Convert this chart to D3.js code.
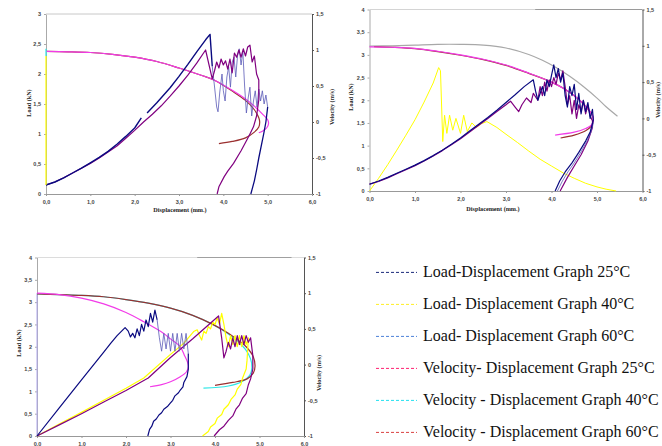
<!DOCTYPE html>
<html>
<head>
<meta charset="utf-8">
<script src="https://cdn.jsdelivr.net/npm/d3@7"></script>
<style>
  body { margin: 0; background: #fff; }
  svg { display: block; }
</style>
</head>
<body>
<div id="chart"></div>
<script>
// tick values shared by the three panels
var dispTicks = [0, 1, 2, 3, 4, 5, 6];
var velTicks = [-1, -0.5, 0, 0.5, 1, 1.5];
var load3Ticks = [0, 0.5, 1, 1.5, 2, 2.5, 3];
var load4Ticks = [0, 0.5, 1, 1.5, 2, 2.5, 3, 3.5, 4];

// ---- panel 1 (top left), [displacement, value] ----
var p1Top = [[0, 1.5], [6, 1.5]];
var p1Yellow = [[0, 0.15], [0, 2.3]];
var p1Cyan = [[0, 2.3], [0, 2.42]];
var p1NavyA = [[0,0.15],[0.2,0.2],[0.4,0.27],[0.6,0.35],[0.8,0.43],[1.0,0.52],[1.2,0.61],[1.4,0.71],[1.6,0.83],[1.8,0.96],[2.0,1.1],[2.15,1.27]];
var p1NavyB = [[2.28,1.35],[2.5,1.52],[2.8,1.77],[3.0,1.96],[3.2,2.16],[3.4,2.37],[3.6,2.57],[3.7,2.66],[3.75,2.13]];
var p1Noise = [[3.75,2.13],[3.8,1.8],[3.85,1.45],[3.88,1.37],[3.92,1.7],[3.97,2.0],[4.0,1.72],[4.04,1.55],[4.08,1.95],[4.12,2.12],[4.16,1.78],[4.2,2.2],[4.24,2.28],[4.28,1.95],[4.32,2.3],[4.36,2.42],[4.4,2.15],[4.44,2.38],[4.48,1.8],[4.52,1.35],[4.56,1.6],[4.6,1.78],[4.64,1.3],[4.68,1.55],[4.72,1.72],[4.76,1.45],[4.8,1.75],[4.84,1.55],[4.88,1.72],[4.92,1.5],[4.96,1.65],[5.0,1.45]];
var p1NavyC = [[5.0,1.45],[4.96,1.2],[4.91,1.0],[4.86,0.82],[4.8,0.6],[4.75,0.4],[4.7,0.22],[4.65,0.08],[4.62,0]];
var p1Purple = [[0,0.15],[0.2,0.2],[0.4,0.27],[0.6,0.35],[0.8,0.43],[1.0,0.51],[1.2,0.6],[1.4,0.7],[1.6,0.8],[1.8,0.93],[2.0,1.06],[2.2,1.2],[2.4,1.33],[2.6,1.47],[2.8,1.63],[3.0,1.8],[3.2,1.98],[3.4,2.18],[3.6,2.4],[3.75,1.92],[3.8,2.05],[3.85,2.2],[3.9,2.1],[3.95,2.25],[4.0,2.15],[4.05,2.22],[4.1,2.08],[4.15,2.25],[4.2,2.02],[4.25,2.35],[4.3,2.28],[4.35,2.4],[4.4,2.28],[4.45,2.42],[4.5,2.3],[4.55,2.45],[4.6,2.48],[4.65,2.2],[4.7,2.3],[4.75,2.0],[4.8,1.9],[4.8,1.57],[4.75,1.3],[4.68,1.12],[4.6,1.0],[4.53,0.9],[4.4,0.72],[4.23,0.51],[4.1,0.38],[4.02,0.29],[3.9,0.12],[3.86,0]];
var p1Maroon = [[0,0.98],[0.5,0.975],[1.0,0.965],[1.5,0.94],[2.0,0.9],[2.5,0.84],[3.0,0.75],[3.5,0.65],[3.8,0.58],[4.2,0.43],[4.5,0.3],[4.7,0.17],[4.8,0.06],[4.82,0],[4.8,-0.07],[4.7,-0.14],[4.5,-0.22],[4.2,-0.27],[3.9,-0.3]];
var p1Magenta = [[0,0.98],[0.5,0.975],[1.0,0.965],[1.5,0.94],[2.0,0.9],[2.5,0.84],[3.0,0.75],[3.5,0.65],[3.8,0.58],[4.2,0.44],[4.5,0.32],[4.7,0.22],[4.9,0.1],[5.0,0.03],[5.02,-0.02],[4.98,-0.08],[4.9,-0.12],[4.8,-0.15]];

// ---- panel 2 (top right) ----
var p2TopLight = [[0, 1.5], [3.64, 1.5]];
var p2TopDark = [[3.64, 1.5], [6, 1.5]];
var p2Gray = [[0,0.995],[0.5,1.0],[1.0,1.01],[1.5,1.02],[2.0,1.02],[2.5,1.01],[3.0,0.97],[3.5,0.88],[3.8,0.8],[4.1,0.7],[4.4,0.58],[4.7,0.44],[5.0,0.28],[5.2,0.16],[5.45,0.03]];
var p2Maroon = [[0.1,0.99],[0.5,0.98],[1.0,0.96],[1.5,0.92],[2.0,0.87],[2.5,0.81],[3.0,0.73],[3.5,0.62],[4.0,0.5],[4.3,0.4],[4.6,0.26],[4.8,0.13],[4.9,0.04],[4.92,-0.02],[4.88,-0.1],[4.75,-0.17],[4.5,-0.23],[4.2,-0.27]];
var p2Magenta = [[0,0.985],[0.5,0.98],[1.0,0.965],[1.5,0.925],[2.0,0.875],[2.5,0.815],[3.0,0.735],[3.5,0.625],[4.0,0.5],[4.3,0.4],[4.6,0.26],[4.8,0.13],[4.9,0.04],[4.92,-0.02],[4.88,-0.09],[4.75,-0.14],[4.5,-0.19],[4.08,-0.23]];
var p2Yellow = [[0,0],[0.2,0.28],[0.4,0.58],[0.6,0.9],[0.8,1.23],[1.0,1.57],[1.2,1.96],[1.4,2.38],[1.52,2.72],[1.56,2.65],[1.61,1.09],[1.65,1.67],[1.7,1.27],[1.76,1.67],[1.83,1.34],[1.9,1.6],[2.0,1.27],[2.07,1.67],[2.15,1.31],[2.25,1.5],[2.35,1.4],[2.45,1.48],[2.58,1.53],[2.8,1.4],[3.0,1.25],[3.25,1.07],[3.5,0.88],[3.75,0.7],[4.0,0.55],[4.27,0.39],[4.5,0.28],[4.75,0.17],[5.0,0.09],[5.2,0.04],[5.42,0.0]];
var p2Navy = [[0,0.15],[0.2,0.22],[0.4,0.3],[0.6,0.39],[0.8,0.48],[1.0,0.57],[1.2,0.67],[1.4,0.78],[1.6,0.9],[1.8,1.03],[2.0,1.17],[2.2,1.32],[2.4,1.47],[2.6,1.62],[2.8,1.78],[3.0,1.95],[3.2,2.12],[3.4,2.3],[3.6,2.45],[3.65,2.2],[3.7,2.0],[3.75,2.15],[3.8,2.3],[3.85,2.1],[3.9,2.45],[3.95,2.3],[4.0,2.55],[4.05,2.78],[4.1,2.5],[4.15,2.7],[4.2,2.4],[4.25,2.6],[4.3,2.1],[4.35,1.85],[4.4,2.3],[4.45,2.1],[4.5,2.35],[4.55,1.8],[4.6,2.15],[4.65,1.7],[4.7,2.0],[4.75,1.75],[4.8,1.95],[4.85,1.6],[4.9,1.8],[4.92,1.56],[4.85,1.3],[4.75,1.1],[4.6,0.85],[4.45,0.62],[4.3,0.42],[4.18,0.22],[4.08,0]];
var p2Blue = [[4.92,1.5],[4.86,1.28],[4.77,1.08],[4.63,0.83],[4.5,0.62],[4.36,0.42],[4.24,0.22],[4.13,0]];
var p2Purple = [[0,0.15],[0.2,0.21],[0.4,0.29],[0.6,0.38],[0.8,0.47],[1.0,0.56],[1.2,0.66],[1.4,0.77],[1.6,0.89],[1.8,1.02],[2.0,1.15],[2.2,1.3],[2.4,1.45],[2.6,1.6],[2.8,1.75],[3.0,1.9],[3.1,1.98],[3.2,1.85],[3.28,1.75],[3.35,1.9],[3.45,2.05],[3.55,1.95],[3.6,2.15],[3.7,2.0],[3.75,2.3],[3.8,2.1],[3.85,2.4],[3.9,2.2],[3.95,2.45],[4.0,2.3],[4.05,2.5],[4.1,2.35],[4.15,2.6],[4.2,2.45],[4.25,2.65],[4.3,2.3],[4.35,1.9],[4.4,2.1],[4.45,1.7],[4.5,2.0],[4.55,1.6],[4.6,1.9],[4.65,1.75],[4.7,2.0],[4.75,1.7],[4.8,1.9],[4.85,1.65],[4.9,1.55],[4.9,1.4],[4.8,1.1],[4.65,0.8],[4.5,0.55],[4.35,0.3],[4.19,0]];

// ---- panel 3 (bottom left) ----
var p3TopLight = [[0, 1.5], [6, 1.5]];
var p3TopDark = [[3.6, 1.5], [5.72, 1.5]];
var p3Lavender = [[0, 0], [0, 3.2]];
var p3NavyA = [[0,0],[0.5,0.63],[1.0,1.26],[1.5,1.88],[1.65,2.07],[1.8,2.25],[1.98,2.43],[2.05,2.35],[2.1,2.22],[2.15,2.3],[2.2,2.2],[2.25,2.4],[2.3,2.25],[2.35,2.5],[2.4,2.35],[2.45,2.6],[2.5,2.45],[2.55,2.75],[2.6,2.55],[2.65,2.82],[2.7,2.6]];
var p3Noise = [[2.7,2.6],[2.75,2.2],[2.8,1.9],[2.85,2.3],[2.9,1.95],[2.95,2.3],[3.0,1.9],[3.05,2.3],[3.1,1.9],[3.15,2.3],[3.2,1.9],[3.25,2.3],[3.3,1.95],[3.35,2.3],[3.4,1.85]];
var p3NavyB = [[3.4,1.85],[3.4,1.5],[3.37,1.33],[3.3,1.2],[3.28,1.1],[3.22,1.03],[3.18,0.97],[3.1,0.9],[3.05,0.8],[2.99,0.73],[2.93,0.66],[2.85,0.6],[2.8,0.52],[2.74,0.47],[2.68,0.38],[2.62,0.33],[2.58,0.22],[2.53,0.15],[2.49,0]];
var p3Yellow = [[0,0],[0.5,0.27],[1.0,0.53],[1.5,0.8],[2.0,1.07],[2.4,1.3],[3.0,1.83],[3.3,2.08],[3.52,2.34],[3.6,2.38],[3.65,2.25],[3.7,2.15],[3.75,2.35],[3.8,2.3],[3.85,2.45],[3.9,2.4],[3.95,2.55],[4.0,2.5],[4.05,2.65],[4.1,2.5],[4.15,2.75],[4.2,2.5],[4.25,2.2],[4.3,2.0],[4.35,2.25],[4.4,2.05],[4.45,2.25],[4.5,2.0],[4.55,2.25],[4.6,2.0],[4.65,2.25],[4.7,2.05],[4.75,2.2],[4.72,1.7],[4.7,1.5],[4.62,1.3],[4.58,1.15],[4.5,1.05],[4.45,0.92],[4.36,0.82],[4.3,0.7],[4.2,0.6],[4.15,0.48],[4.05,0.4],[4.0,0.28],[3.9,0.2],[3.85,0.1],[3.72,0]];
var p3Purple = [[0,0],[0.5,0.25],[1.0,0.5],[1.5,0.76],[2.0,1.02],[2.5,1.3],[3.0,1.76],[3.5,2.18],[4.08,2.69],[4.15,2.2],[4.2,1.75],[4.25,1.9],[4.3,2.1],[4.35,1.95],[4.4,2.2],[4.45,2.0],[4.5,2.25],[4.55,2.05],[4.6,2.25],[4.65,2.05],[4.7,2.25],[4.75,2.1],[4.8,2.2],[4.85,1.8],[4.85,1.5],[4.8,1.28],[4.75,1.15],[4.7,0.95],[4.62,0.85],[4.55,0.7],[4.47,0.6],[4.4,0.45],[4.3,0.35],[4.2,0.22],[4.1,0.14],[3.98,0]];
var p3Magenta = [[0,1.0],[0.5,0.98],[1.0,0.93],[1.5,0.85],[2.0,0.73],[2.4,0.6],[2.84,0.44],[3.0,0.36],[3.22,0.25],[3.32,0.12],[3.38,0.04],[3.4,-0.03],[3.36,-0.1],[3.22,-0.17],[3.0,-0.24],[2.8,-0.28],[2.54,-0.31]];
var p3Cyan = [[0,0.99],[0.5,0.98],[1.0,0.97],[1.5,0.95],[2.0,0.91],[2.5,0.86],[3.0,0.79],[3.5,0.69],[3.96,0.56],[4.3,0.43],[4.5,0.33],[4.7,0.2],[4.8,0.08],[4.83,-0.04],[4.78,-0.15],[4.6,-0.24],[4.3,-0.3],[3.74,-0.33]];
var p3Maroon = [[0,0.99],[0.5,0.98],[1.0,0.97],[1.5,0.95],[2.0,0.91],[2.5,0.86],[3.0,0.79],[3.5,0.69],[3.96,0.56],[4.3,0.44],[4.5,0.35],[4.7,0.25],[4.86,0.11],[4.9,-0.02],[4.86,-0.12],[4.72,-0.2],[4.4,-0.25],[4.0,-0.29]];

// ---- legend ----
var legendLabels = [
  "Load-Displacement Graph 25°C",
  "Load- Displacement Graph 40°C",
  "Load- Displacement Graph 60°C",
  "Velocity- Displacement Graph 25°C",
  "Velocity - Displacement Graph 40°C",
  "Velocity - Displacement Graph 60°C"
];
var legendColors = ["#1a2a7a", "#ffee22", "#4a80d8", "#ff2070", "#22e0f0", "#d94040"];

// line colours (excel defaults)
var NAVY = "#0a0a80", PURPLE = "#800080", MAGENTA = "#f23ce8", MAROON = "#9b3030",
    YELLOW = "#ffff00", CYAN = "#2ee6e6", GRAY = "#a8a8a8", NOISE = "#5a5ab8";

var svg = d3.select("#chart").append("svg")
  .attr("width", 662)
  .attr("height", 446);

var commaFmt = function(d) { return String(d).replace(".", ","); };
var dispFmt = function(d) { return d.toFixed(1).replace(".", ","); };

var panels = [
  { left: 46, right: 312, top: 14, bottom: 194, loadMax: 3, loadTicks: load3Ticks,
    xTitle: [180, 212], loadTitle: [31, 103], velTitle: [334, 107],
    series: [
      { data: p1Top, axis: "v", color: "#c8c8c8", w: 1 },
      { data: p1Maroon, axis: "v", color: MAROON, smooth: true },
      { data: p1Magenta, axis: "v", color: MAGENTA, smooth: true },
      { data: p1Noise, color: NOISE, w: 0.8 },
      { data: p1Purple, color: PURPLE },
      { data: p1NavyA, color: NAVY, w: 1.4 },
      { data: p1NavyB, color: NAVY, w: 1.4 },
      { data: p1NavyC, color: NAVY, w: 1.3 },
      { data: p1Yellow, color: YELLOW, w: 1.2 },
      { data: p1Cyan, color: CYAN, w: 1.2 }
    ] },
  { left: 369.5, right: 642.5, top: 9.5, bottom: 191, loadMax: 4, loadTicks: load4Ticks,
    xTitle: [493, 211], loadTitle: [353, 97], velTitle: [660, 100],
    series: [
      { data: p2TopLight, axis: "v", color: "#d4d4d4", w: 1 },
      { data: p2TopDark, axis: "v", color: "#9a9a9a", w: 1 },
      { data: p2Gray, axis: "v", color: GRAY, smooth: true },
      { data: p2Yellow, color: YELLOW, w: 1 },
      { data: p2Maroon, axis: "v", color: MAROON, smooth: true },
      { data: p2Magenta, axis: "v", color: MAGENTA, smooth: true },
      { data: p2Purple, color: PURPLE },
      { data: p2Blue, color: NOISE, w: 0.8 },
      { data: p2Navy, color: NAVY }
    ] },
  { left: 37, right: 304, top: 257.5, bottom: 436, loadMax: 4, loadTicks: load4Ticks,
    xTitle: null, loadTitle: [21, 343], velTitle: [321, 373],
    series: [
      { data: p3TopLight, axis: "v", color: "#dcdcdc", w: 1 },
      { data: p3TopDark, axis: "v", color: "#a0a0a0", w: 1.2 },
      { data: p3Lavender, color: "#b0a8f0", w: 1 },
      { data: p3Cyan, axis: "v", color: CYAN, smooth: true },
      { data: p3Maroon, axis: "v", color: MAROON, smooth: true },
      { data: p3Magenta, axis: "v", color: MAGENTA, smooth: true },
      { data: p3Yellow, color: YELLOW },
      { data: p3Purple, color: PURPLE },
      { data: p3Noise, color: NOISE, w: 0.8 },
      { data: p3NavyA, color: NAVY },
      { data: p3NavyB, color: NAVY }
    ] }
];

function styleAxis(ax, lineColor) {
  ax.attr("font-size", null).attr("font-family", null);
  ax.select(".domain").attr("stroke", lineColor);
  ax.selectAll(".tick line").attr("stroke", lineColor);
  ax.selectAll(".tick text")
    .attr("fill", "#444")
    .style("font", "bold 5.5px 'Liberation Sans', Arial, sans-serif");
}

function drawPanel(p) {
  var x = d3.scaleLinear().domain([0, 6]).range([p.left, p.right]);
  var yL = d3.scaleLinear().domain([0, p.loadMax]).range([p.bottom, p.top]);
  var yV = d3.scaleLinear().domain([-1, 1.5]).range([p.bottom, p.top]);
  var g = svg.append("g");

  // draw left axis
  var axL = g.append("g")
    .attr("transform", "translate(" + p.left + ",0)")
    .call(d3.axisLeft(yL).tickValues(p.loadTicks).tickFormat(commaFmt)
      .tickSizeInner(2).tickSizeOuter(0).tickPadding(3));
  styleAxis(axL, "#aaa");

  // draw right axis
  var axR = g.append("g")
    .attr("transform", "translate(" + p.right + ",0)")
    .call(d3.axisRight(yV).tickValues(velTicks).tickFormat(commaFmt)
      .tickSizeInner(2).tickSizeOuter(0).tickPadding(2));
  styleAxis(axR, "#555");

  // draw x axis
  var axB = g.append("g")
    .attr("transform", "translate(0," + p.bottom + ")")
    .call(d3.axisBottom(x).tickValues(dispTicks).tickFormat(dispFmt)
      .tickSizeInner(2).tickSizeOuter(0).tickPadding(4));
  styleAxis(axB, "#999");

  // draw series
  p.series.forEach(function(s) {
    var y = s.axis == "v" ? yV : yL;
    var line = d3.line()
      .x(function(d) { return x(d[0]); })
      .y(function(d) { return y(d[1]); })
      .curve(s.smooth ? d3.curveCatmullRom.alpha(0.5) : d3.curveLinear);
    g.append("path")
      .datum(s.data)
      .attr("d", line)
      .attr("fill", "none")
      .attr("stroke", s.color)
      .attr("stroke-width", s.w || 1.2)
      .attr("stroke-linejoin", "round");
  });

  var titleFont = "bold 6.2px 'Liberation Serif', 'Times New Roman', serif";

  // axis titles
  if (p.xTitle) {
    g.append("text")
      .attr("x", p.xTitle[0]).attr("y", p.xTitle[1])
      .attr("text-anchor", "middle")
      .style("font", titleFont).attr("fill", "#222")
      .text("Displacement (mm.)");
  }
  g.append("text")
    .attr("transform", "translate(" + p.loadTitle[0] + "," + p.loadTitle[1] + ") rotate(-90)")
    .attr("text-anchor", "middle")
    .style("font", titleFont).attr("fill", "#222")
    .text("Load (kN)");
  g.append("text")
    .attr("transform", "translate(" + p.velTitle[0] + "," + p.velTitle[1] + ") rotate(-90)")
    .attr("text-anchor", "middle")
    .style("font", titleFont).attr("fill", "#222")
    .text("Velocity (m/s)");
}

panels.forEach(drawPanel);

// draw legend
var legend = svg.append("g").selectAll("g")
  .data(legendLabels)
  .enter().append("g")
  .attr("transform", function(d, i) { return "translate(0," + (276.7 + i * 32) + ")"; });

legend.append("line")
  .attr("x1", 376).attr("x2", 417)
  .attr("y1", -4.3).attr("y2", -4.3)
  .attr("stroke", function(d, i) { return legendColors[i]; })
  .attr("stroke-width", 1)
  .attr("stroke-dasharray", "3,2");

legend.append("text")
  .attr("x", 423)
  .style("font", "16px 'Liberation Serif', 'Times New Roman', serif")
  .attr("fill", "#111")
  .text(function(d) { return d; });
</script>
</body>
</html>
